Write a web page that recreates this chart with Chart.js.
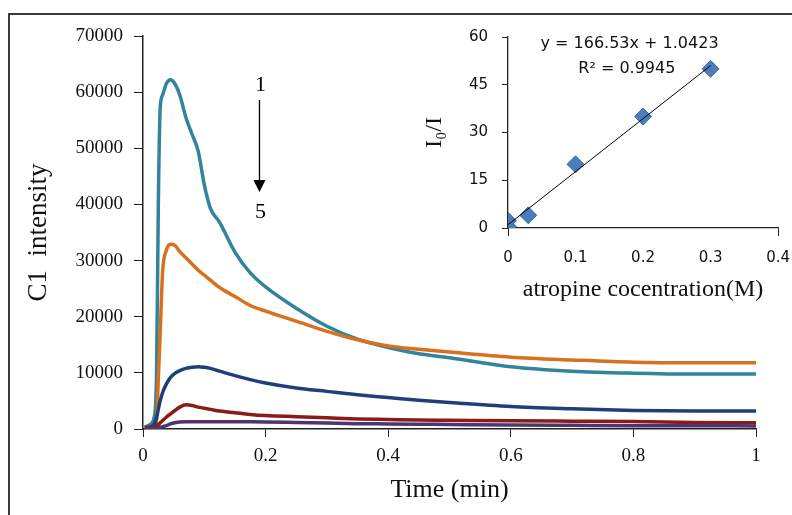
<!DOCTYPE html>
<html>
<head>
<meta charset="utf-8">
<script src="https://cdn.jsdelivr.net/npm/chart.js@4.4.1/dist/chart.umd.min.js"></script>
<style>
  html, body { margin: 0; padding: 0; background: #fff; }
  #wrap { position: relative; width: 792px; height: 515px; overflow: hidden; }
  #frame { position: absolute; left: 8px; top: 13px; width: 800px; height: 520px;
           border-left: 2px solid #3a3a3a; border-top: 2px solid #3a3a3a; }
  #main { position: absolute; left: 0; top: 0; }
  #inset { position: absolute; left: 400px; top: 14px; }
</style>
</head>
<body>
<div id="wrap">
  <div id="frame"></div>
  <canvas id="main" width="792" height="515"></canvas>
  <canvas id="inset" width="403" height="306"></canvas>
</div>
<script>
// Tiempo (min) compartido por las 5 curvas
const time = [0.003, 0.012, 0.018, 0.022, 0.025, 0.028, 0.032, 0.038, 0.045, 0.052,
              0.06, 0.07, 0.08, 0.09, 0.1, 0.11, 0.125, 0.15, 0.175, 0.2,
              0.25, 0.3, 0.35, 0.4, 0.45, 0.5, 0.6, 0.7, 0.8, 0.9, 1.0];

const curve1 = [300, 800, 2000, 9000, 40000, 57000, 59500, 61500, 62200, 61500,
                59500, 55500, 52500, 49500, 43500, 39300, 36800, 31500, 27800, 25300,
                21500, 18300, 16000, 14500, 13400, 12700, 11100, 10300, 9950, 9800, 9800];
const curve2 = [300, 400, 600, 1500, 9000, 17000, 28000, 31800, 32900, 32700,
                31600, 30500, 29400, 28300, 27400, 26500, 25200, 23600, 22000, 21000,
                19200, 17400, 15900, 14800, 14200, 13700, 12800, 12300, 11900, 11800, 11800];
const curve3 = [300, 400, 800, 2000, 3500, 5000, 6500, 8000, 9200, 9900,
                10400, 10800, 11000, 11100, 11000, 10800, 10300, 9500, 8800, 8200,
                7300, 6700, 6100, 5600, 5100, 4700, 4000, 3600, 3300, 3200, 3200];
const curve4 = [200, 300, 400, 600, 800, 1100, 1500, 2100, 2700, 3300,
                3900, 4300, 4200, 3900, 3700, 3500, 3200, 2900, 2600, 2400,
                2200, 2000, 1800, 1700, 1600, 1550, 1450, 1400, 1350, 1150, 1100];
const curve5 = [100, 100, 150, 200, 250, 300, 400, 600, 900, 1100,
                1250, 1300, 1300, 1300, 1300, 1300, 1300, 1300, 1280, 1250,
                1150, 1050, 950, 900, 850, 800, 700, 650, 600, 600, 550];

const curveColors = ['#31849b', '#d9701e', '#1f3f7a', '#8a1c16', '#4e3473'];

// Recuadro: concentración de atropina vs I0/I
const conc = [0, 0, 0.03, 0.1, 0.2, 0.3];
const ratio = [0.4, 2.3, 4, 20, 35, 50];
const fitSlope = 166.53;
const fitIntercept = 1.0423;
const fitRange = [0, 0.3];

const serif = 'Liberation Serif';
const sans = 'DejaVu Sans';

function pts(xs, ys) { return xs.map((x, i) => ({ x, y: ys[i] })); }
const fmt = v => String(Number(v.toFixed(2)));

// Flecha 1 -> 5
const arrowPlugin = {
  id: 'arrow',
  afterDraw(chart) {
    const { ctx, scales: { x, y } } = chart;
    const px = x.getPixelForValue(0.19);
    const yTop = y.getPixelForValue(58600);
    const yTip = y.getPixelForValue(42200);
    ctx.save();
    ctx.fillStyle = '#000';
    ctx.strokeStyle = '#000';
    ctx.lineWidth = 1.3;
    ctx.beginPath();
    ctx.moveTo(px, yTop);
    ctx.lineTo(px, yTip - 10);
    ctx.stroke();
    ctx.beginPath();
    ctx.moveTo(px - 6, yTip - 12);
    ctx.lineTo(px + 6, yTip - 12);
    ctx.lineTo(px, yTip);
    ctx.closePath();
    ctx.fill();
    ctx.font = '22px "' + serif + '"';
    ctx.textAlign = 'center';
    ctx.textBaseline = 'middle';
    ctx.fillText('1', px + 1, y.getPixelForValue(61300));
    ctx.fillText('5', px + 1, y.getPixelForValue(38600));
    ctx.restore();
  }
};

const mainDatasets = [curve1, curve2, curve3, curve4, curve5].map((c, i) => ({
  label: String(i + 1),
  data: pts(time, c),
  borderColor: curveColors[i],
  backgroundColor: curveColors[i],
  borderWidth: 3.5,
  pointRadius: 0,
  cubicInterpolationMode: 'monotone',
  order: 5 - i
}));

new Chart(document.getElementById('main'), {
  type: 'line',
  data: { datasets: mainDatasets },
  options: {
    responsive: false,
    animation: false,
    layout: { padding: { left: 8, top: 36, right: 36, bottom: 0 } },
    plugins: { legend: { display: false }, tooltip: { enabled: false } },
    scales: {
      x: {
        type: 'linear', min: 0, max: 1,
        afterFit: s => { s.height = 86; },
        ticks: { stepSize: 0.2, padding: 8, color: '#111', font: { family: serif, size: 19 }, callback: fmt },
        grid: { drawOnChartArea: false, drawTicks: true, tickLength: 8, color: '#222' },
        border: { display: true, color: '#222', width: 1.5 },
        title: { display: true, text: 'Time (min)', color: '#111', font: { family: serif, size: 26 }, padding: { top: 0, bottom: 9 } }
      },
      y: {
        min: 0, max: 70000,
        afterFit: s => { s.width = 135; },
        ticks: { stepSize: 10000, padding: 11, color: '#111', font: { family: serif, size: 19 }, callback: v => String(v) },
        grid: { drawOnChartArea: false, drawTicks: true, tickLength: 9, color: '#222' },
        border: { display: true, color: '#222', width: 1.5 },
        title: { display: true, text: 'C1  intensity', color: '#111', font: { family: serif, size: 27 }, padding: { top: 15, bottom: 0 } }
      }
    }
  },
  plugins: [arrowPlugin]
});

// Ecuación de la recta
const eqPlugin = {
  id: 'eq',
  afterDraw(chart) {
    const { ctx, scales: { x, y } } = chart;
    ctx.save();
    ctx.fillStyle = '#111';
    ctx.font = '16px "' + sans + '"';
    ctx.textAlign = 'center';
    ctx.textBaseline = 'middle';
    ctx.fillText('y = 166.53x + 1.0423', x.getPixelForValue(0.18), y.getPixelForValue(57.8));
    ctx.fillText('R² = 0.9945', x.getPixelForValue(0.176), y.getPixelForValue(50));
    ctx.restore();
  }
};

new Chart(document.getElementById('inset'), {
  type: 'scatter',
  data: {
    datasets: [
      {
        type: 'line',
        data: fitRange.map(v => ({ x: v, y: fitSlope * v + fitIntercept })),
        borderColor: '#000',
        borderWidth: 1,
        pointRadius: 0,
        order: 0
      },
      {
        data: pts(conc, ratio),
        pointStyle: 'rectRot',
        pointRadius: 8.5,
        backgroundColor: '#4a7ebb',
        borderColor: '#3a6aa6',
        borderWidth: 1,
        order: 1
      }
    ]
  },
  options: {
    responsive: false,
    animation: false,
    layout: { padding: { left: 0, top: 9, right: 3, bottom: 0 } },
    plugins: { legend: { display: false }, tooltip: { enabled: false } },
    scales: {
      x: {
        type: 'linear', min: 0, max: 0.4,
        afterFit: s => { s.height = 92; },
        ticks: { stepSize: 0.1, padding: 13, color: '#111', font: { family: sans, size: 15 }, callback: fmt },
        grid: {
          drawOnChartArea: false, drawTicks: true, tickLength: 8,
          color: c => (c.index === 0 || c.index === 4) ? '#222' : 'rgba(0,0,0,0)'
        },
        border: { display: true, color: '#222', width: 1.3 },
        title: { display: true, text: 'atropine cocentration(M)', color: '#111', font: { family: serif, size: 24 }, padding: { top: 0, bottom: 16 } }
      },
      y: {
        min: 0, max: 60,
        afterFit: s => { s.width = 108; },
        ticks: { stepSize: 15, padding: 14, color: '#111', font: { family: sans, size: 15 } },
        grid: { drawOnChartArea: false, drawTicks: true, tickLength: 6, color: '#222' },
        border: { display: true, color: '#222', width: 1.3 },
        title: { display: true, text: 'I₀/I', color: '#111', font: { family: serif, size: 24 }, padding: { top: 20, bottom: 0 } }
      }
    }
  },
  plugins: [eqPlugin]
});
</script>
</body>
</html>
